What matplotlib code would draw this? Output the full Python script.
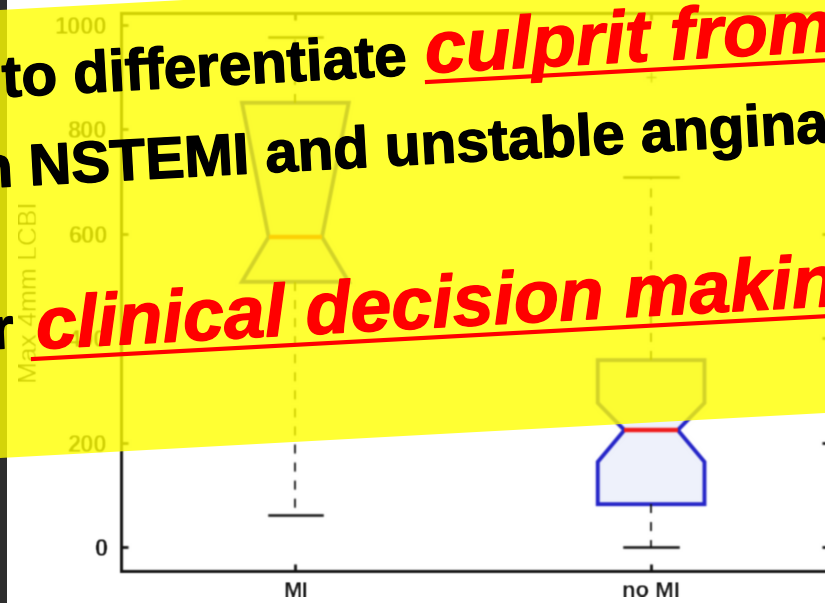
import numpy as np
import matplotlib
matplotlib.use("Agg")
import matplotlib.pyplot as plt
import matplotlib.patheffects as pe
from matplotlib.patches import Polygon, Rectangle
from matplotlib.lines import Line2D

W, H = 825, 603

# box summary values, Max 4mm LCBI
groups = ["MI", "no MI"]
medians = [594, 224]
q1s = [508, 82]
q3s = [851, 358]
ci_lo = [508, 163]
ci_hi = [851, 276]
whisk_lo = [61, 0]
whisk_hi = [977, 709]
fliers = [[], [900]]

yticks = [0, 200, 400, 600, 800, 1000]

# slide banner text, one entry per run of styling
line1 = [("to differentiate ", "black", 42, "normal", (3, 97)),
         ("culprit from", "red", 53, "italic", (426, 73))]
line2 = [("in NSTEMI and unstable angina", "black", 42, "normal", (-38, 189))]
line3 = [("for ", "black", 42, "normal", (-63, 352)),
         ("clinical decision making", "red", 53, "italic", (37, 349))]
underlines = [((427, 82), (830, 60)), ((33, 359), (830, 316))]

BANNER_ANGLE = 3.1


def fig_xy(x, y):
    return x / W, 1 - y / H


def soften(img, dpi, sigma=0.8):
    # small gaussian blur, the plot itself came from a low-res capture
    r = int(3 * sigma) + 1
    k = np.exp(-0.5 * (np.arange(-r, r + 1) / sigma) ** 2)
    k /= k.sum()
    out = np.pad(img, ((r, r), (r, r), (0, 0)), mode="edge")
    out = np.apply_along_axis(lambda v: np.convolve(v, k, mode="same"), 0, out)
    out = np.apply_along_axis(lambda v: np.convolve(v, k, mode="same"), 1, out)
    return out[r:-r, r:-r], 0, 0


fig = plt.figure(figsize=(W / 100, H / 100), dpi=100)
fig.patch.set_facecolor("white")

ax = fig.add_axes([121 / W, 1 - 571 / H, 708 / W, 558 / H])

stats = []
for i, name in enumerate(groups):
    stats.append(dict(label=name, med=medians[i], q1=q1s[i], q3=q3s[i],
                      cilo=ci_lo[i], cihi=ci_hi[i],
                      whislo=whisk_lo[i], whishi=whisk_hi[i],
                      fliers=fliers[i]))

ax.bxp(stats, positions=[1, 2], widths=0.3, shownotches=True, patch_artist=True,
       boxprops=dict(facecolor="#eef1fb", edgecolor="#2424c8", linewidth=2.8),
       medianprops=dict(color="#f01c1c", linewidth=3.2),
       whiskerprops=dict(color="#111111", linewidth=1.3, linestyle=(0, (5, 5))),
       capprops=dict(color="#111111", linewidth=1.8),
       flierprops=dict(marker="+", markeredgecolor="#444444", markersize=7))

ax.set_xlim(0.51, 2.5)
ax.set_ylim(-46, 1023)
ax.set_yticks(yticks)
ax.set_xticks([1, 2])
ax.set_xticklabels(groups)

for sp in ax.spines.values():
    sp.set_linewidth(2.2)
    sp.set_color("#111111")
ax.tick_params(direction="in", length=5, width=2.0, top=True, right=True,
               labelsize=17, colors="#111111")
ax.tick_params(axis="y", pad=10)
ax.tick_params(axis="x", labelsize=16, pad=7)
for lab in ax.get_xticklabels() + ax.get_yticklabels():
    lab.set_fontweight("bold")
    lab.set_family("Liberation Sans")
ax.set_ylabel("Max 4mm LCBI", fontsize=19, family="Liberation Sans",
              color="#111111", labelpad=9)
ax.set_agg_filter(soften)

# dark slide edge on the left
fig.add_artist(Rectangle(fig_xy(0, H), 7 / W, 1, transform=fig.transFigure,
                         facecolor="#2e2e2e", edgecolor="none", zorder=0.5))

# translucent yellow highlight band
band = [fig_xy(0, 10), fig_xy(W, -35), fig_xy(W, 413), fig_xy(0, 458)]
fig.add_artist(Polygon(band, closed=True, transform=fig.transFigure,
                       facecolor="#ffff00", alpha=0.8, edgecolor="none", zorder=1))

for line in (line1, line2, line3):
    for txt, col, size, style, (x, y) in line:
        fx, fy = fig_xy(x, y)
        fig.text(fx, fy, txt, color=col, fontsize=size, fontweight="bold",
                 style=style, family="Liberation Sans", rotation=BANNER_ANGLE,
                 rotation_mode="anchor", ha="left", va="baseline", zorder=3,
                 path_effects=[pe.withStroke(linewidth=1.0, foreground=col)])

for (x0, y0), (x1, y1) in underlines:
    a, b = fig_xy(x0, y0)
    c, d = fig_xy(x1, y1)
    fig.add_artist(Line2D([a, c], [b, d], transform=fig.transFigure,
                          color="red", linewidth=3.0, zorder=3))

fig.savefig("out.png", dpi=100)
